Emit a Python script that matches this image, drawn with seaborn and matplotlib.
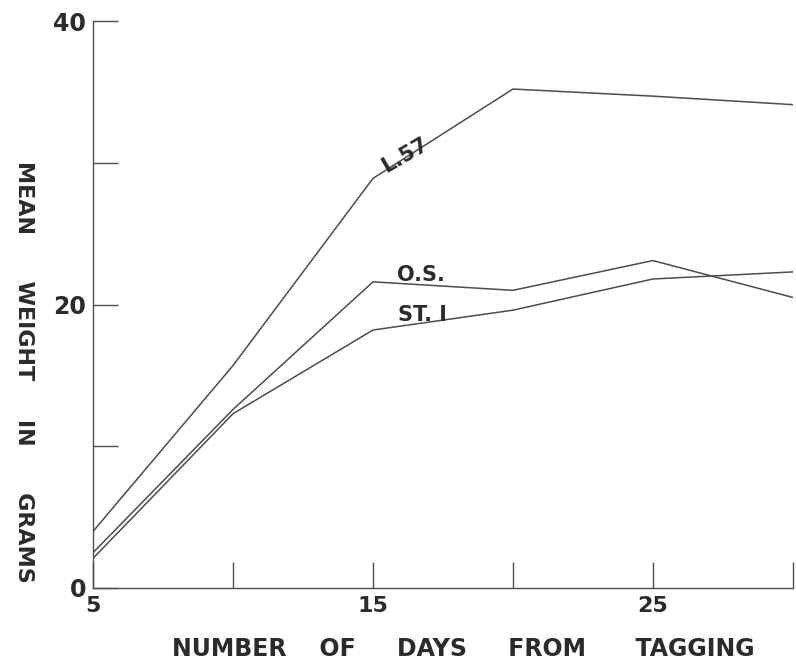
import matplotlib
matplotlib.use("Agg")
import matplotlib.pyplot as plt
import seaborn as sns
import pandas as pd

days = [5, 10, 15, 20, 25, 30]
l57 = [4.0, 15.7, 28.9, 35.2, 34.7, 34.1]
os_ = [2.5, 12.6, 21.6, 21.0, 23.1, 20.5]
st1 = [2.1, 12.3, 18.2, 19.6, 21.8, 22.3]
series_names = ["L.57", "O.S.", "ST. I"]

x_ticks = [5, 10, 15, 20, 25, 30]
x_ticklabels = ["5", "", "15", "", "25", ""]
y_ticks = [0, 10, 20, 30, 40]
y_ticklabels = ["0", "", "20", "", "40"]

df = pd.DataFrame({
    "day": days * 3,
    "weight": l57 + os_ + st1,
    "series": [series_names[0]] * len(days) + [series_names[1]] * len(days) + [series_names[2]] * len(days),
})

sns.set_style("white")
plt.rcParams["font.family"] = ["DejaVu Sans"]

ink = "#2b2b2b"
linec = "#4d4d4d"

fig = plt.figure(figsize=(7.96, 6.65), dpi=100)
ax = fig.add_axes([0.117, 0.1158, 0.879, 0.8526])

sns.lineplot(data=df, x="day", y="weight", hue="series",
             palette={n: linec for n in series_names}, linewidth=1.1,
             legend=False, ax=ax, sort=False)

ax.set_xlim(5, 30)
ax.set_ylim(0, 40)
ax.set_xticks(x_ticks)
ax.set_xticklabels(x_ticklabels, fontsize=16, fontweight="bold", color=ink)
ax.set_yticks(y_ticks)
ax.set_yticklabels(y_ticklabels, fontsize=17, fontweight="bold", color=ink)
ax.tick_params(axis="x", bottom=True, direction="in", length=19, width=1.0,
               color=linec, pad=6)
ax.tick_params(axis="y", left=True, direction="in", length=18, width=1.0,
               color=linec, pad=5)

for s in ["top", "right"]:
    ax.spines[s].set_visible(False)
for s in ["left", "bottom"]:
    ax.spines[s].set_color(linec)
    ax.spines[s].set_linewidth(1.0)

ax.set_xlabel("NUMBER    OF     DAYS     FROM      TAGGING", fontsize=17,
              fontweight="bold", color=ink)
ax.xaxis.set_label_coords(0.529, -0.086)
ax.set_ylabel("MEAN      WEIGHT     IN      GRAMS", fontsize=16, fontweight="bold",
              color=ink, rotation=270)
ax.yaxis.set_label_coords(-0.113, 0.381)

ax.text(16.14, 30.55, series_names[0], fontsize=15, fontweight="bold", color=ink,
        rotation=30, ha="center", va="center")
ax.text(16.7, 22.1, series_names[1], fontsize=15, fontweight="bold", color=ink,
        ha="center", va="center")
ax.text(16.75, 19.26, series_names[2], fontsize=15, fontweight="bold", color=ink,
        ha="center", va="center")

fig.savefig("out.png", dpi=100)
